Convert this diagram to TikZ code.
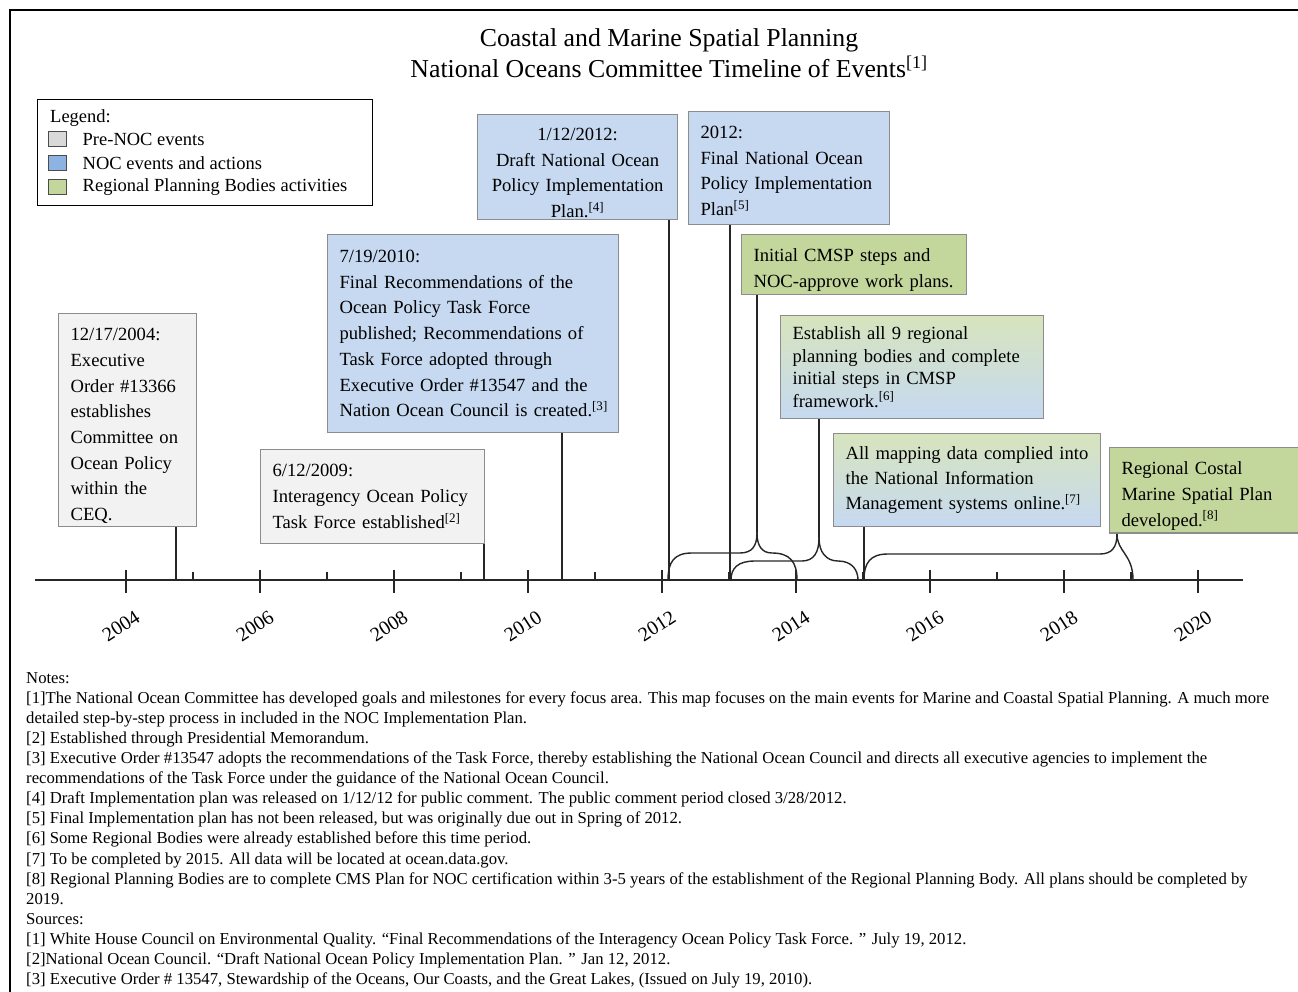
\documentclass[tikz,border=0pt]{standalone}
\usepackage{fontspec}
\setmainfont{Liberation Serif}
\usetikzlibrary{positioning}
\definecolor{pregray}{HTML}{F2F2F2}
\definecolor{prekey}{HTML}{D9D9D9}
\definecolor{nocblue}{HTML}{C6D9F1}
\definecolor{nockey}{HTML}{8DB3E2}
\definecolor{rpbgreen}{HTML}{C3D69B}
\definecolor{mixgreen}{HTML}{D7E4BD}
\definecolor{boxline}{HTML}{8C8C8C}
\begin{document}
\begin{tikzpicture}[x=1pt,y=-1pt,
event/.style={
% The boxes:
rectangle,
draw=boxline,
line width=1.2pt,
anchor=north west,
inner xsep=12pt,
inner ysep=3pt,
align=left,
font=\fontsize{18.6}{25.7}\selectfont
},
topstrut/.style={execute at begin node={\rule{0pt}{#1}}},
prenoc/.style={event,fill=pregray},
noc/.style={event,fill=nocblue},
rpb/.style={event,fill=rpbgreen},
mixed/.style={event,top color=mixgreen,bottom color=nocblue},
stem/.style={line width=1.4pt,draw=black!85},
brace/.style={line width=1.4pt,draw=black!85},
yearlab/.style={rotate=33,font=\fontsize{20}{20}\selectfont},
keybox/.style={draw=black!70,line width=1pt,minimum width=18pt,minimum height=15pt,inner sep=0pt},
keytext/.style={anchor=west,inner sep=0pt,font=\fontsize{18.5}{22}\selectfont}
]
\useasboundingbox (0,0) rectangle (1298,992);
\draw[line width=2.5pt] (10,992) -- (10,10) -- (1298,10);

% Title
\node[align=center,font=\fontsize{25.8}{31}\selectfont] (title) at (669,53)
  {Coastal and Marine Spatial Planning\\National Oceans Committee Timeline of Events\textsuperscript{[1]}};

% Legend
\node[draw,line width=1.2pt,anchor=north west,minimum width=335pt,minimum height=106pt,inner sep=0pt] (legend) at (37,99) {};
\node[keytext] (legtitle) at (50,118) {Legend:};
\node[keybox,fill=prekey] (keypre) at (57,139) {};
\node[keybox,fill=nockey,below=8pt of keypre] (keynoc) {};
\node[keybox,fill=rpbgreen,below=8pt of keynoc] (keyrpb) {};
\node[keytext,right=16pt of keypre] (labpre) {Pre-NOC events};
\node[keytext,right=16pt of keynoc] (labnoc) {NOC events and actions};
\node[keytext,right=16pt of keyrpb] (labrpb) {Regional Planning Bodies activities};

% Events
\node[prenoc,topstrut=24pt,text width=114pt,minimum height=212pt] (exec) at (58,313)
  {12/17/2004:\\Executive\\Order \#13366\\establishes\\Committee on\\Ocean Policy\\within the\\CEQ.};
\node[prenoc,text width=200pt,minimum height=94pt] (taskforce) at (260,449)
  {6/12/2009:\\Interagency Ocean Policy\\Task Force established\textsuperscript{[2]}};
\node[noc,text width=267pt,minimum height=198pt] (council) at (327,234)
  {7/19/2010:\\Final Recommendations of the\\Ocean Policy Task Force\\published; Recommendations of\\Task Force adopted through\\Executive Order \#13547 and the\\\hbox{Nation Ocean Council is created.\textsuperscript{[3]}}};
\node[noc,topstrut=24pt,inner ysep=0pt,align=center,text width=176pt,minimum height=105pt] (draft) at (477,114)
  {1/12/2012:\\Draft National Ocean\\Policy Implementation\\Plan.\textsuperscript{[4]}};
\node[noc,topstrut=18pt,text width=177pt,minimum height=113pt] (final) at (688,111)
  {2012:\\Final National Ocean\\Policy Implementation\\Plan\textsuperscript{[5]}};
\node[rpb,topstrut=24pt,text width=201pt,minimum height=59pt] (initial) at (741,234)
  {Initial CMSP steps and\\NOC-approve work plans.};
\node[mixed,text width=239pt,minimum height=103pt,font=\fontsize{18.6}{22.4}\selectfont] (bodies) at (780,315)
  {Establish all 9 regional\\planning bodies and complete\\initial steps in CMSP\\framework.\textsuperscript{[6]}};
\node[mixed,text width=243pt,minimum height=93pt,font=\fontsize{18.6}{25}\selectfont] (mapping) at (833,433)
  {All mapping data complied into\\the National Information\\Management systems online.\textsuperscript{[7]}};
\node[rpb,topstrut=24pt,text width=180pt,minimum height=84pt] (cmsplan) at (1109,447)
  {Regional Costal\\Marine Spatial Plan\\developed.\textsuperscript{[8]}};

% Axis
\coordinate (axstart) at (35,580);
\coordinate (axend) at (1243,580);
\draw[line width=1.4pt,draw=black!85] (axstart) -- (axend);
\foreach \yr in {2004,2006,...,2020}{
  \draw[line width=1.4pt,draw=black!85] ({126+67*(\yr-2004)},570) -- ({126+67*(\yr-2004)},593);
  \node[yearlab] (y\yr) at ({121+67*(\yr-2004)},626) {\yr};
}
\foreach \yr in {2005,2007,...,2019}
  \draw[line width=1.2pt,draw=black!85] ({126+67*(\yr-2004)},572) -- ({126+67*(\yr-2004)},580);

% Stems
\coordinate (s2004) at (176,580);
\coordinate (s2009) at (484,580);
\coordinate (s2010) at (562,580);
\coordinate (s2012a) at (669,580);
\coordinate (s2012b) at (730,580);
\coordinate (s2015) at (864,580);
\coordinate (tipa) at (757,533);
\coordinate (tipb) at (819,538);
\coordinate (tipc) at (1117,534);
\draw[stem] (exec.south -| s2004) -- (s2004);
\draw[stem] (taskforce.south -| s2009) -- (s2009);
\draw[stem] (council.south -| s2010) -- (s2010);
\draw[stem] (draft.south -| s2012a) -- (s2012a);
\draw[stem] (final.south -| s2012b) -- (s2012b);
\draw[stem] (initial.south -| tipa) -- (tipa);
\draw[stem] (bodies.south -| tipb) -- (tipb);
\draw[stem] (mapping.south -| s2015) -- (s2015);
\draw[stem] (cmsplan.south -| tipc) -- (tipc);

% Braces
\draw[brace] (668,580) .. controls (668,562) and (674,553) .. (692,553) -- (740,553)
  .. controls (752,553) and (757,546) .. (tipa);
\draw[brace] (tipa) .. controls (757,546) and (762,553) .. (772,553)
  .. controls (790,553) and (797,562) .. (797,580);
\draw[brace] (731,580) .. controls (731,568) and (738,561) .. (755,561) -- (802,561)
  .. controls (814,561) and (819,552) .. (tipb);
\draw[brace] (tipb) .. controls (819,552) and (826,561) .. (838,561)
  .. controls (852,561) and (858,570) .. (858,580);
\draw[brace] (864,580) .. controls (864,563) and (870,554) .. (888,554) -- (1100,554)
  .. controls (1112,554) and (1117,547) .. (tipc);
\draw[brace] (tipc) .. controls (1117,552) and (1133,554) .. (1133,580);

% Notes
\node[anchor=north west,align=left,inner sep=0pt,font=\fontsize{16.7}{20.1}\selectfont] (notes) at (26,672)
  {Notes:\\{}[1]The National Ocean Committee has developed goals and milestones for every focus area. This map focuses on the main events for Marine and Coastal Spatial Planning. A much more\\%
  detailed step-by-step process in included in the NOC Implementation Plan.\\{}%
  [2] Established through Presidential Memorandum.\\{}%
  [3] Executive Order \#13547 adopts the recommendations of the Task Force, thereby establishing the National Ocean Council and directs all executive agencies to implement the\\%
  recommendations of the Task Force under the guidance of the National Ocean Council.\\{}%
  [4] Draft Implementation plan was released on 1/12/12 for public comment. The public comment period closed 3/28/2012.\\{}%
  [5] Final Implementation plan has not been released, but was originally due out in Spring of 2012.\\{}%
  [6] Some Regional Bodies were already established before this time period.\\{}%
  [7] To be completed by 2015. All data will be located at ocean.data.gov.\\{}%
  [8] Regional Planning Bodies are to complete CMS Plan for NOC certification within 3-5 years of the establishment of the Regional Planning Body. All plans should be completed by\\%
  2019.\\%
  Sources:\\{}%
  [1] White House Council on Environmental Quality. “Final Recommendations of the Interagency Ocean Policy Task Force. ” July 19, 2012.\\{}%
  [2]National Ocean Council. “Draft National Ocean Policy Implementation Plan. ” Jan 12, 2012.\\{}%
  [3] Executive Order \# 13547, Stewardship of the Oceans, Our Coasts, and the Great Lakes, (Issued on July 19, 2010).};
\end{tikzpicture}
\end{document}
